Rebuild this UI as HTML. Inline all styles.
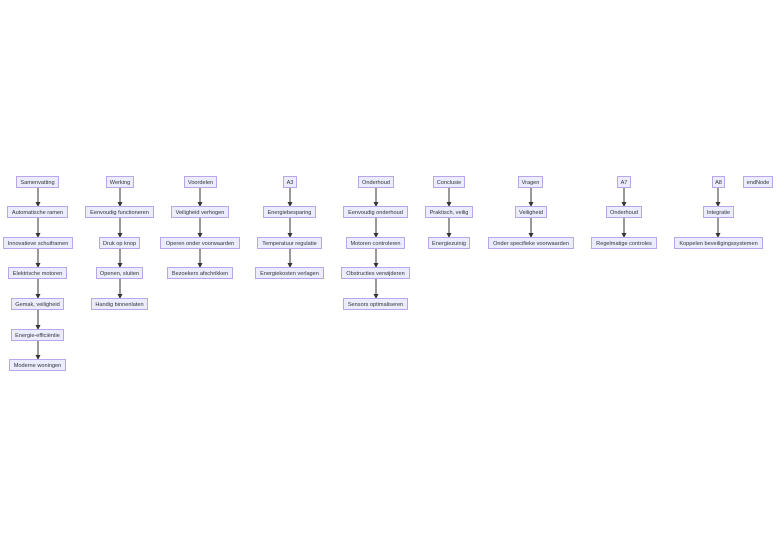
<!DOCTYPE html>
<html><head><meta charset="utf-8"><style>
html,body{margin:0;padding:0;background:#fff;}
body{width:784px;height:547px;position:relative;overflow:hidden;font-family:"Liberation Sans",sans-serif;}
.n{position:absolute;height:9px;padding-top:1px;line-height:10px;text-align:center;background:#ECECFF;border:1px solid #b9a5ea;box-sizing:content-box;font-size:5.6px;color:#333;white-space:nowrap;overflow:visible;}
.n span{display:inline-block;transform:translateY(1px);}
svg{position:absolute;left:0;top:0;}
</style></head><body>
<svg width="784" height="547" id="s">
<defs><marker id="a" markerWidth="5" markerHeight="5" refX="4" refY="2.5" orient="auto" markerUnits="userSpaceOnUse"><path d="M0,0L5,2.5L0,5z" fill="#333"/></marker></defs>
<g stroke="#333" stroke-width="1" marker-end="url(#a)">
<line x1="38" y1="188" x2="38" y2="206"/><line x1="38" y1="218" x2="38" y2="237"/><line x1="38" y1="249" x2="38" y2="267"/><line x1="38" y1="279" x2="38" y2="298"/><line x1="38" y1="310" x2="38" y2="329"/><line x1="38" y1="341" x2="38" y2="359"/>
<line x1="120" y1="188" x2="120" y2="206"/><line x1="120" y1="218" x2="120" y2="237"/><line x1="120" y1="249" x2="120" y2="267"/><line x1="120" y1="279" x2="120" y2="298"/>
<line x1="200" y1="188" x2="200" y2="206"/><line x1="200" y1="218" x2="200" y2="237"/><line x1="200" y1="249" x2="200" y2="267"/>
<line x1="290" y1="188" x2="290" y2="206"/><line x1="290" y1="218" x2="290" y2="237"/><line x1="290" y1="249" x2="290" y2="267"/>
<line x1="376" y1="188" x2="376" y2="206"/><line x1="376" y1="218" x2="376" y2="237"/><line x1="376" y1="249" x2="376" y2="267"/><line x1="376" y1="279" x2="376" y2="298"/>
<line x1="449" y1="188" x2="449" y2="206"/><line x1="449" y1="218" x2="449" y2="237"/>
<line x1="531" y1="188" x2="531" y2="206"/><line x1="531" y1="218" x2="531" y2="237"/>
<line x1="624" y1="188" x2="624" y2="206"/><line x1="624" y1="218" x2="624" y2="237"/>
<line x1="718" y1="188" x2="718" y2="206"/><line x1="718" y1="218" x2="718" y2="237"/>
</g></svg>
<div class="n" style="left:16px;top:176px;width:41px">Samenvatting</div>
<div class="n" style="left:7px;top:206px;width:59px">Automatische ramen</div>
<div class="n" style="left:3px;top:237px;width:68px">Innovatieve schuiframen</div>
<div class="n" style="left:8px;top:267px;width:57px">Elektrische motoren</div>
<div class="n" style="left:11px;top:298px;width:51px">Gemak, veiligheid</div>
<div class="n" style="left:11px;top:329px;width:51px">Energie-efficiëntie</div>
<div class="n" style="left:9px;top:359px;width:55px">Moderne woningen</div>

<div class="n" style="left:106px;top:176px;width:26px">Werking</div>
<div class="n" style="left:85px;top:206px;width:67px">Eenvoudig functioneren</div>
<div class="n" style="left:99px;top:237px;width:39px">Druk op knop</div>
<div class="n" style="left:96px;top:267px;width:45px">Openen, sluiten</div>
<div class="n" style="left:91px;top:298px;width:55px">Handig binnenlaten</div>

<div class="n" style="left:184px;top:176px;width:31px">Voordelen</div>
<div class="n" style="left:171px;top:206px;width:56px">Veiligheid verhogen</div>
<div class="n" style="left:160px;top:237px;width:78px">Operen onder voorwaarden</div>
<div class="n" style="left:167px;top:267px;width:64px">Bezoekers afschrikken</div>

<div class="n" style="left:283px;top:176px;width:12px">A3</div>
<div class="n" style="left:263px;top:206px;width:51px">Energiebesparing</div>
<div class="n" style="left:257px;top:237px;width:63px">Temperatuur regulatie</div>
<div class="n" style="left:255px;top:267px;width:67px">Energiekosten verlagen</div>

<div class="n" style="left:358px;top:176px;width:34px">Onderhoud</div>
<div class="n" style="left:343px;top:206px;width:63px">Eenvoudig onderhoud</div>
<div class="n" style="left:346px;top:237px;width:57px">Motoren controleren</div>
<div class="n" style="left:341px;top:267px;width:67px">Obstructies verwijderen</div>
<div class="n" style="left:343px;top:298px;width:63px">Sensors optimaliseren</div>

<div class="n" style="left:433px;top:176px;width:30px">Conclusie</div>
<div class="n" style="left:425px;top:206px;width:46px">Praktisch, veilig</div>
<div class="n" style="left:428px;top:237px;width:40px">Energiezuinig</div>

<div class="n" style="left:518px;top:176px;width:23px">Vragen</div>
<div class="n" style="left:515px;top:206px;width:30px">Veiligheid</div>
<div class="n" style="left:488px;top:237px;width:84px">Onder specifieke voorwaarden</div>

<div class="n" style="left:617px;top:176px;width:12px">A7</div>
<div class="n" style="left:606px;top:206px;width:34px">Onderhoud</div>
<div class="n" style="left:591px;top:237px;width:64px">Regelmatige controles</div>

<div class="n" style="left:712px;top:176px;width:11px">A8</div>
<div class="n" style="left:703px;top:206px;width:29px">Integratie</div>
<div class="n" style="left:674px;top:237px;width:87px">Koppelen beveiligingssystemen</div>

<div class="n" style="left:743px;top:176px;width:28px">endNode</div>
</body></html>
